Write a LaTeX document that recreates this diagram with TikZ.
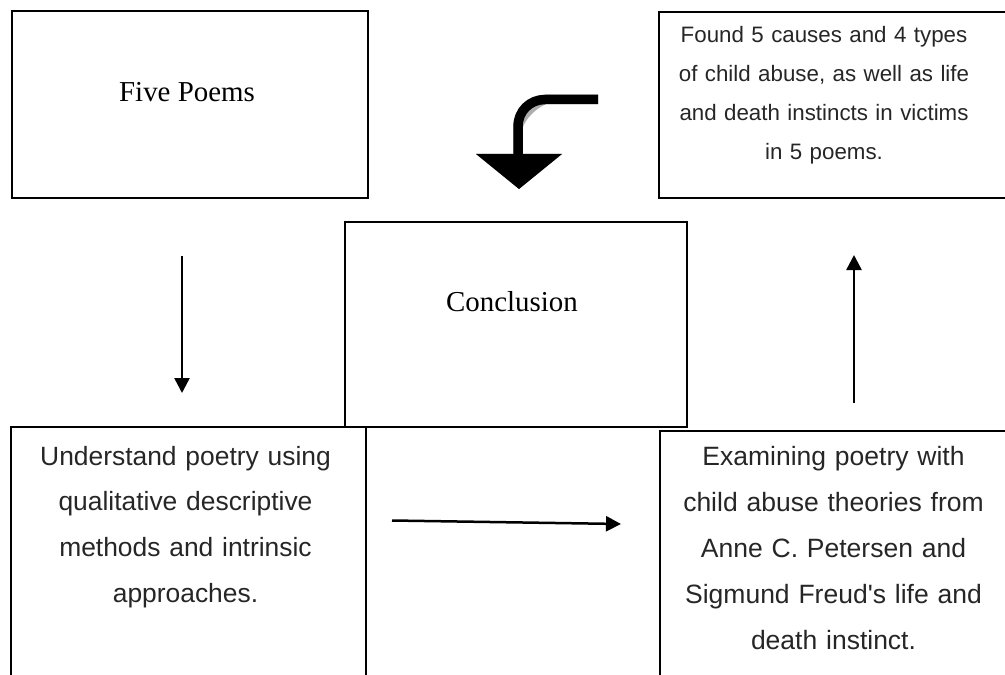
\documentclass[tikz,border=0pt]{standalone}
\usepackage{fontspec}
\setmainfont{Liberation Serif}
\newfontfamily\sansf{Liberation Sans}
\usetikzlibrary{arrows.meta}
\begin{document}
\begin{tikzpicture}[x=1bp,y=-1bp,
  box/.style={draw, line width=1.8bp, inner sep=0pt, rectangle},
  serift/.style={inner sep=0pt, anchor=base, font=\fontsize{29}{34}\selectfont},
  sanst/.style={inner sep=0pt, anchor=base, align=center, text width=340bp, text=black!85},
  flow/.style={line width=2.5bp, -{Triangle[width=15bp,length=15bp]}},
  blockstem/.style={line width=9.5bp},
]
\useasboundingbox (0,0) rectangle (1005,675);
\clip (0,0) rectangle (1005,675);

% boxes
\node[box, minimum width=356bp, minimum height=187bp] (poems) at (190,104.5) {};
\node[box, minimum width=353bp, minimum height=186bp] (found) at (835.5,105) {};
\node[box, minimum width=342bp, minimum height=205bp] (concl) at (516,324.5) {};
\node[box, minimum width=355bp, minimum height=263bp] (under) at (188.5,558.5) {};
\node[box, minimum width=352bp, minimum height=259bp] (exam) at (836,560.5) {};

% texts
\node[serift] (tpoems) at (187,101.5) {Five Poems};
\node[serift] (tconcl) at (512,311.5) {Conclusion};
\node[sanst, font=\sansf\fontsize{22.4}{39}\selectfont] (tfound) at (824,43)
  {Found 5 causes and 4 types\\ of child abuse, as well as life\\ and death instincts in victims\\ in 5 poems.};
\node[sanst, font=\sansf\fontsize{26.5}{46}\selectfont] (tunder) at (185.5,465)
  {Understand poetry using\\ qualitative descriptive\\ methods and intrinsic\\ approaches.};
\node[sanst, font=\sansf\fontsize{26.6}{46}\selectfont] (texam) at (833.5,465.7)
  {Examining poetry with\\ child abuse theories from\\ Anne C. Petersen and\\ Sigmund Freud's life and\\ death instinct.};

% straight arrows
\coordinate (d1) at (182,256);
\coordinate (d2) at (182,393);
\coordinate (u1) at (854,403);
\coordinate (u2) at (854,255);
\coordinate (h1) at (392,520.5);
\coordinate (h2) at (621,524);
\draw[flow] (d1) -- (d2);
\draw[flow] (u1) -- (u2);
\draw[flow] (h1) -- (h2);

% curved block arrow with shadow
\coordinate (c1) at (598,99.5);
\coordinate (c2) at (545,99.5);
\coordinate (c3) at (518,126.5);
\coordinate (c4) at (518,156);
\coordinate (hl) at (476,154);
\coordinate (hr) at (562,154);
\coordinate (ht) at (519,189);
\begin{scope}[shift={(4,4)}, black!32]
  \draw[blockstem] (c1) -- (c2) .. controls (530,99.5) and (518,111) .. (c3) -- (c4);
  \fill (hl) -- (hr) -- (ht) -- cycle;
\end{scope}
\draw[blockstem] (c1) -- (c2) .. controls (530,99.5) and (518,111) .. (c3) -- (c4);
\fill (hl) -- (hr) -- (ht) -- cycle;
\end{tikzpicture}
\end{document}
